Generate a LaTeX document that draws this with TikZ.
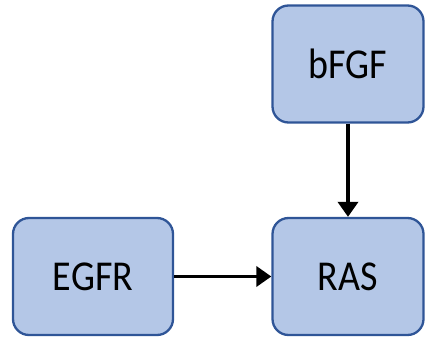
\documentclass[tikz,border=0pt]{standalone}
\usepackage{fontspec}
\setmainfont{Carlito}
\usetikzlibrary{arrows.meta}
\definecolor{boxfill}{HTML}{B4C7E7}
\definecolor{boxline}{HTML}{2F5597}
\newcommand{\genelabel}[1]{\scalebox{1}[1.12]{#1}}
\begin{document}
\begin{tikzpicture}[x=1pt,y=-1pt,
  gene/.style={draw=boxline, line width=2.3pt, fill=boxfill, rounded corners=16pt,
    minimum width=#1, minimum height=117pt, inner sep=0pt,
    font=\fontsize{38}{40}\selectfont},
  gene/.default=151pt,
  link/.style={line width=3.6pt, -{Triangle[length=15pt,width=20pt]}}]
\useasboundingbox (0,0) rectangle (425,339);
\node[gene] (bfgf) at (348,64) {\genelabel{bFGF}};
\node[gene] (ras) at (348,276.5) {\genelabel{RAS}};
\node[gene=160pt] (egfr) at (93,276.5) {\genelabel{EGFR}};
\draw[link] (bfgf) -- (ras);
\draw[link] (egfr) -- (ras);
\end{tikzpicture}
\end{document}
